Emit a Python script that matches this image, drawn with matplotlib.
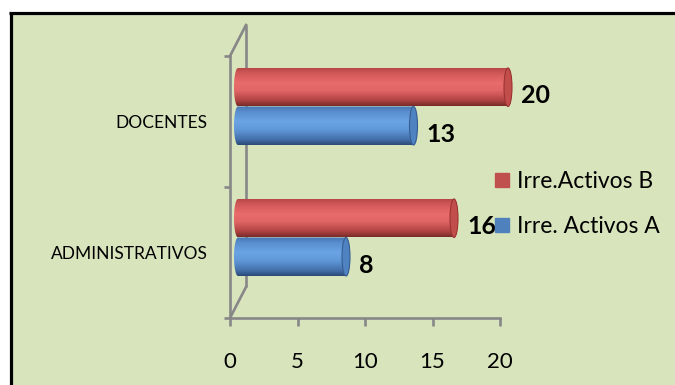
import numpy as np
import matplotlib
matplotlib.use("Agg")
import matplotlib.pyplot as plt
from matplotlib.path import Path
from matplotlib.patches import PathPatch, Ellipse, Rectangle
from matplotlib.lines import Line2D
from matplotlib.transforms import ScaledTranslation
from matplotlib.colors import LinearSegmentedColormap

plt.rcParams['font.family'] = ['Lato', 'DejaVu Sans']

categories = ["ADMINISTRATIVOS", "DOCENTES"]
series_a = [8, 13]    # Irre. Activos A
series_b = [16, 20]   # Irre.Activos B
label_a = "Irre. Activos A"
label_b = "Irre.Activos B"
x_ticks = [0, 5, 10, 15, 20]

W, H, DPI = 675, 385, 100
fig = plt.figure(figsize=(W / DPI, H / DPI), dpi=DPI, facecolor="white")

# green panel with a black top/left border (right and bottom run off the canvas)
fig.patches.append(Rectangle((10.5 / W, -0.05), 1.1, (H - 13) / H + 0.05,
                             transform=fig.transFigure, facecolor="#D8E4BC",
                             edgecolor="none", zorder=-5))
fig.add_artist(Line2D([9.3 / W, 1.05], [(H - 13) / H] * 2, transform=fig.transFigure,
                      color="black", lw=2.3, zorder=-4, solid_capstyle="butt"))
fig.add_artist(Line2D([10.5 / W] * 2, [-0.05, (H - 11.8) / H], transform=fig.transFigure,
                      color="black", lw=2.3, zorder=-4, solid_capstyle="butt"))

ax = fig.add_axes([230 / W, 1 - 318 / H, 270 / W, 262 / H])
ax.set_zorder(2)
ax.set_facecolor("none")
ax.set_xlim(0, 20)
ax.set_ylim(-0.5, 1.5)

GRAY = "#878787"
for s in ["top", "right"]:
    ax.spines[s].set_visible(False)
for s in ["left", "bottom"]:
    ax.spines[s].set_color(GRAY)
    ax.spines[s].set_linewidth(1.9)

ax.set_xticks(x_ticks)
ax.set_xticklabels([str(t) for t in x_ticks], fontsize=16)
ax.tick_params(axis="x", length=5.5, width=1.9, color=GRAY, pad=19)
ax.set_yticks([-0.5, 0.5, 1.5])
ax.set_yticklabels([])
ax.tick_params(axis="y", length=4, width=1.9, color=GRAY)
ax.set_yticks([0, 1], minor=True)
ax.set_yticklabels(categories, minor=True, fontsize=12.5)
ax.tick_params(axis="y", which="minor", length=0, pad=16)

# depth frame: back wall edge and connecting diagonals
back = ScaledTranslation(16 / DPI, 31 / DPI, fig.dpi_scale_trans)
ax.plot([0, 0], [0, 1], transform=ax.transAxes + back, color=GRAY,
        lw=1.9, clip_on=False, solid_capstyle="butt", zorder=1)
fig.canvas.draw()
for yy in (0, 1):
    p0 = ax.transAxes.transform((0, yy))
    p1 = (ax.transAxes + back).transform((0, yy))
    ax.plot([p0[0], p1[0]], [p0[1], p1[1]], transform=None, color=GRAY,
            lw=1.9, clip_on=False, zorder=1)

# cylinder bars, drawn half-way into the depth
mid = ScaledTranslation(8 / DPI, 15 / DPI, fig.dpi_scale_trans)
tr = ax.transData + mid

red_cmap = LinearSegmentedColormap.from_list("r", [
    (0.0, "#B34644"), (0.15, "#D15858"), (0.4, "#E96B6B"), (0.6, "#E26666"),
    (0.85, "#B24443"), (1.0, "#7A2C2B")])
blue_cmap = LinearSegmentedColormap.from_list("b", [
    (0.0, "#4877B4"), (0.15, "#5A8FD0"), (0.4, "#6BA4E4"), (0.6, "#6098D8"),
    (0.85, "#4572AD"), (1.0, "#2B4B78")])

bar_h = 0.294
cap_w = 8 / 13.5  # cap ellipse width in data units


def capsule(x1, yc, h, a):
    t1 = np.linspace(np.pi / 2, 3 * np.pi / 2, 30)
    t2 = np.linspace(-np.pi / 2, np.pi / 2, 30)
    xs = np.concatenate([0 + a * np.cos(t1), x1 + a * np.cos(t2)])
    ys = np.concatenate([yc + h / 2 * np.sin(t1), yc + h / 2 * np.sin(t2)])
    verts = np.column_stack([xs, ys])
    verts = np.vstack([verts, verts[:1]])
    codes = [Path.MOVETO] + [Path.LINETO] * (len(verts) - 2) + [Path.CLOSEPOLY]
    return Path(verts, codes)


def cylinder(yc, value, cmap, cap_face, cap_edge):
    grad = np.linspace(0, 1, 64).reshape(-1, 1)
    a = cap_w / 2
    im = ax.imshow(grad, cmap=cmap, aspect="auto", interpolation="bilinear",
                   extent=[-a, value + a, yc - bar_h / 2, yc + bar_h / 2],
                   origin="upper", zorder=3)
    im.set_transform(tr)
    clip = PathPatch(capsule(value, yc, bar_h, a), transform=tr,
                     facecolor="none", edgecolor="none")
    ax.add_patch(clip)
    im.set_clip_path(clip)
    im.set_clip_box(fig.bbox)
    ax.add_patch(Ellipse((value, yc), cap_w, bar_h, transform=tr,
                         facecolor=cap_face, edgecolor=cap_edge, lw=0.8,
                         zorder=4, clip_on=False))


y_pos = np.arange(len(categories))
off = bar_h / 2
for i, y in enumerate(y_pos):
    cylinder(y + off, series_b[i], red_cmap, "#C24E4C", "#9C3432")
    cylinder(y - off, series_a[i], blue_cmap, "#4F82C0", "#375E92")

# value labels
for i, y in enumerate(y_pos):
    for v, yc in ((series_b[i], y + off), (series_a[i], y - off)):
        ax.annotate(str(v), xy=(v, yc), xytext=(21 * 0.72, 6.5 * 0.72),
                    textcoords="offset points", ha="left", va="center",
                    fontsize=18, fontweight="bold", color="black", zorder=6,
                    annotation_clip=False)
ax.set_xlim(0, 20)
ax.set_ylim(-0.5, 1.5)

# legend
handles = [Line2D([], [], marker="s", ls="none", markersize=10, color="#C0504D"),
           Line2D([], [], marker="s", ls="none", markersize=10, color="#4F81BD")]
fig.legend(handles, [label_b, label_a], loc="center left",
           bbox_to_anchor=(481 / W, 1 - 204 / H), frameon=False, fontsize=16.5,
           handlelength=0.8, handletextpad=0.25, labelspacing=1.05, borderpad=0)

fig.savefig("out.png", dpi=DPI, facecolor="white")
